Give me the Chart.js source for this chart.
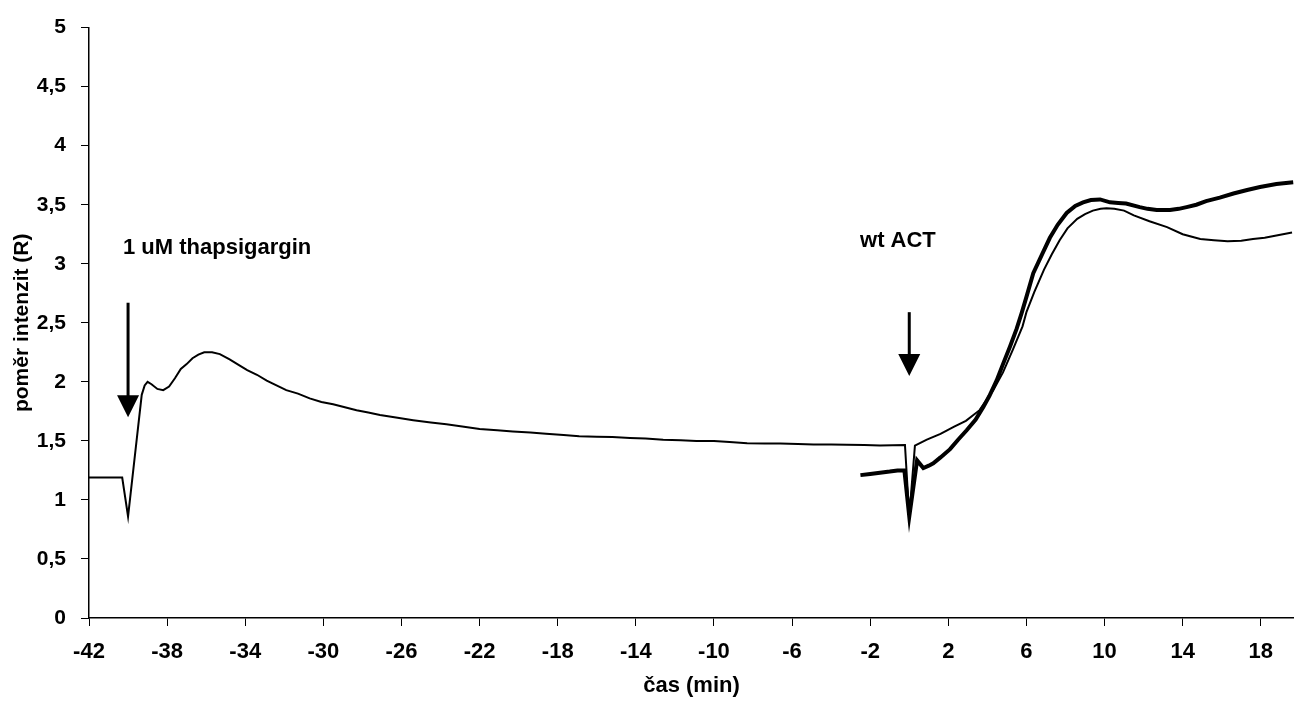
<!DOCTYPE html>
<html>
<head>
<meta charset="utf-8">
<script src="https://cdn.jsdelivr.net/npm/chart.js@4.4.1/dist/chart.umd.min.js"></script>
<style>
html,body{margin:0;padding:0;background:#fff;}
#wrap{width:1294px;height:702px;}
</style>
</head>
<body>
<div id="wrap"><canvas id="graf" width="1294" height="702"></canvas></div>
<script>
// osa x (min) a osa y (R)
var xTicks = [-42,-38,-34,-30,-26,-22,-18,-14,-10,-6,-2,2,6,10,14,18];
var yTicks = [0,0.5,1,1.5,2,2.5,3,3.5,4,4.5,5];

// tenka krivka - thapsigargin + wt ACT
var thinTime = [-42,-40.3,-40.0,-39.6,-39.3,-39.15,-39.0,-38.8,-38.5,-38.2,-37.9,-37.6,-37.3,-37.0,-36.7,-36.4,-36.1,-35.7,-35.3,-34.8,-34.3,-33.9,-33.4,-32.9,-32.4,-31.9,-31.3,-30.7,-30.1,-29.5,-28.9,-28.3,-27.7,-27.1,-26.2,-25.4,-24.5,-23.7,-22.8,-22.0,-21.1,-20.3,-19.4,-18.6,-17.7,-16.9,-16.0,-15.2,-14.3,-13.5,-12.6,-11.7,-10.9,-10.0,-9.2,-8.3,-7.4,-6.6,-5.7,-4.9,-4.0,-3.2,-2.3,-1.5,-0.22,0.0,0.29,0.9,1.6,2.3,2.9,3.6,4.3,4.8,5.3,5.8,6.0,6.4,6.9,7.3,7.7,8.1,8.6,9.0,9.4,9.8,10.1,10.5,11.0,11.5,12.3,13.2,14.0,14.9,15.6,16.3,17.0,17.6,18.2,18.8,19.6];
var thinRatio = [1.19,1.19,0.86,1.45,1.89,1.97,2.0,1.98,1.94,1.93,1.96,2.03,2.11,2.15,2.2,2.23,2.25,2.25,2.235,2.19,2.14,2.10,2.06,2.01,1.97,1.93,1.90,1.86,1.83,1.81,1.785,1.76,1.74,1.72,1.695,1.675,1.655,1.64,1.62,1.60,1.59,1.58,1.57,1.56,1.55,1.54,1.535,1.533,1.525,1.52,1.51,1.505,1.50,1.50,1.49,1.48,1.478,1.477,1.473,1.47,1.47,1.468,1.465,1.46,1.465,0.86,1.46,1.51,1.56,1.62,1.67,1.76,1.93,2.08,2.27,2.47,2.59,2.76,2.95,3.08,3.20,3.30,3.38,3.42,3.45,3.465,3.47,3.465,3.45,3.41,3.36,3.31,3.25,3.21,3.20,3.19,3.195,3.21,3.22,3.24,3.265];

// tlusta krivka - jen wt ACT
var thickTime = [-2.5,-2.0,-1.5,-1.0,-0.6,-0.25,0.0,0.4,0.72,1.0,1.23,1.6,2.09,2.5,2.94,3.4,3.8,4.1,4.47,4.8,5.16,5.5,5.75,6.0,6.35,6.8,7.2,7.6,8.06,8.5,8.9,9.3,9.77,10.28,10.7,11.1,11.8,12.2,12.67,13.35,13.8,14.2,14.7,15.2,15.9,16.6,17.3,17.96,18.8,19.66];
var thickRatio = [1.21,1.22,1.23,1.24,1.25,1.25,0.86,1.335,1.27,1.29,1.31,1.36,1.43,1.51,1.59,1.68,1.79,1.88,2.01,2.15,2.30,2.45,2.58,2.72,2.92,3.08,3.22,3.33,3.43,3.49,3.52,3.54,3.545,3.52,3.515,3.51,3.48,3.465,3.455,3.455,3.465,3.48,3.50,3.53,3.56,3.595,3.625,3.65,3.675,3.69];

// sipky a popisky (v souradnicich grafu)
var arrowX = [-40, 0];
var arrowTop = [2.67, 2.59];
var arrowTip = [1.70, 2.05];
var noteText = ['1 uM thapsigargin', 'wt ACT'];
var noteX = [-40.26, -2.52];
var noteY = [3.085, 3.14];

var toPoints = function(xs, ys){
	var pts = [];
	for(var i = 0; i < xs.length; i++){
		pts.push({x: xs[i], y: ys[i]});
	}
	return pts;
};

var fontFam = '"Liberation Sans", Arial, sans-serif';

var annotPlugin = {
	id: 'annot',
	afterDatasetsDraw: function(chart){
		var ctx = chart.ctx;
		var sx = chart.scales.x, sy = chart.scales.y;
		ctx.save();
		ctx.fillStyle = '#000';
		ctx.strokeStyle = '#000';
		// popisky
		ctx.font = 'bold 22px ' + fontFam;
		ctx.textBaseline = 'alphabetic';
		ctx.textAlign = 'left';
		for(var i = 0; i < noteText.length; i++){
			ctx.fillText(noteText[i], sx.getPixelForValue(noteX[i]), sy.getPixelForValue(noteY[i]));
		}
		// sipky
		for(var j = 0; j < arrowX.length; j++){
			var px = sx.getPixelForValue(arrowX[j]);
			var top = sy.getPixelForValue(arrowTop[j]);
			var tip = sy.getPixelForValue(arrowTip[j]);
			ctx.lineWidth = 3;
			ctx.beginPath();
			ctx.moveTo(px, top);
			ctx.lineTo(px, tip - 18);
			ctx.stroke();
			ctx.beginPath();
			ctx.moveTo(px - 11, tip - 22);
			ctx.lineTo(px + 11, tip - 22);
			ctx.lineTo(px, tip);
			ctx.closePath();
			ctx.fill();
		}
		ctx.restore();
	}
};

var chart = new Chart(document.getElementById('graf'), {
	type: 'line',
	data: {
		datasets: [
			{
				label: 'thapsigargin',
				data: toPoints(thinTime, thinRatio),
				borderColor: '#000',
				borderWidth: 2,
				pointRadius: 0,
				tension: 0,
				fill: false
			},
			{
				label: 'wt ACT',
				data: toPoints(thickTime, thickRatio),
				borderColor: '#000',
				borderWidth: 4,
				pointRadius: 0,
				tension: 0,
				fill: false
			}
		]
	},
	options: {
		responsive: false,
		animation: false,
		devicePixelRatio: 1,
		layout: { padding: { top: 27, right: 0, bottom: 0, left: 0 } },
		plugins: {
			legend: { display: false },
			tooltip: { enabled: false }
		},
		scales: {
			x: {
				type: 'linear',
				min: -42,
				max: 19.7,
				afterBuildTicks: function(axis){
					axis.ticks = xTicks.map(function(v){ return {value: v}; });
				},
				afterFit: function(axis){
					axis.height = 84;
					axis.paddingRight = 0;
					axis.paddingLeft = 0;
				},
				grid: { display: true, drawOnChartArea: false, drawTicks: true, tickLength: 8, color: '#000', lineWidth: 1 },
				border: { display: true, color: '#000', width: 1.5 },
				ticks: {
					color: '#000',
					padding: 13,
					maxRotation: 0,
					autoSkip: false,
					font: { family: fontFam, size: 22, weight: 'bold' }
				},
				title: {
					display: true,
					text: 'čas (min)',
					color: '#000',
					padding: { top: 0, bottom: 3 },
					font: { family: fontFam, size: 22, weight: 'bold' }
				}
			},
			y: {
				min: 0,
				max: 5,
				afterBuildTicks: function(axis){
					axis.ticks = yTicks.map(function(v){ return {value: v}; });
				},
				afterFit: function(axis){ axis.width = 89; },
				grid: { display: true, drawOnChartArea: false, drawTicks: true, tickLength: 8, color: '#000', lineWidth: 1 },
				border: { display: true, color: '#000', width: 1.5 },
				ticks: {
					color: '#000',
					padding: 15,
					font: { family: fontFam, size: 21, weight: 'bold' },
					callback: function(v){ return String(v).replace('.', ','); }
				},
				title: {
					display: true,
					text: 'poměr intenzit (R)',
					color: '#000',
					padding: { top: 10, bottom: 0 },
					font: { family: fontFam, size: 21, weight: 'bold' }
				}
			}
		}
	},
	plugins: [annotPlugin]
});
</script>
</body>
</html>
